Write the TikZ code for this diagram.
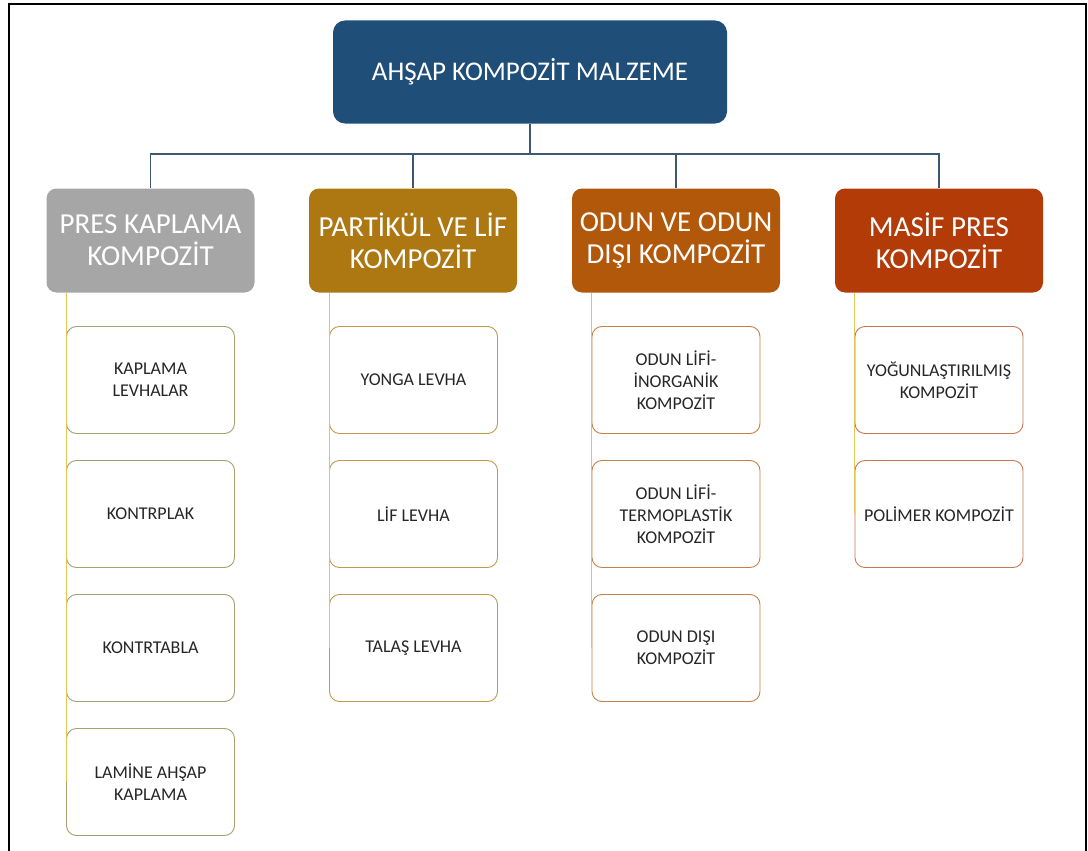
\documentclass[tikz,border=0pt]{standalone}
\usepackage{fontspec}
\setmainfont{Carlito}
\usepackage{tikz}
\usetikzlibrary{calc}
\usetikzlibrary{positioning}
\definecolor{topblue}{HTML}{1F4E79}
\definecolor{busline}{HTML}{3E5870}
\definecolor{leadline}{HTML}{E6C454}
\definecolor{grayC}{HTML}{A6A6A6}
\definecolor{goldC}{HTML}{AD7712}
\definecolor{ochreC}{HTML}{B2580B}
\definecolor{rustC}{HTML}{B23B08}

\begin{document}
\begin{tikzpicture}[x=1pt, y=-1pt,
  topbox/.style={draw=none, fill=topblue, rounded corners=12pt, minimum width=394pt, minimum height=103pt, text=white, font=\fontsize{27}{31}\selectfont},
  headbox/.style={draw=none, rounded corners=10pt, minimum width=208pt, minimum height=104pt, text=white, align=center, font=\fontsize{29}{32}\selectfont},
  leafbox/.style={draw=#1, fill=white, line width=0.9pt, rounded corners=10pt, minimum width=168pt, minimum height=107pt, text=black!85, align=center, font=\fontsize{18}{22}\selectfont},
  conn/.style={draw=busline, line width=1.6pt},
  lead/.style={draw=leadline, line width=1pt}]
\useasboundingbox (0,0) rectangle (1088,851);
\draw[black, line width=1.8pt] (9,851) -- (9,4) -- (1086,4) -- (1086,851);
\node[topbox] (R0) at (530,72) {AHŞAP KOMPOZİT MALZEME};
\node[headbox, fill=grayC] (C1) at (150.5,240.5) {PRES KAPLAMA\\KOMPOZİT};
\node[headbox, fill=goldC] (C2) at (413,240.5) {PARTİKÜL VE LİF\\KOMPOZİT};
\node[headbox, fill=ochreC] (C3) at (676,240.5) {ODUN VE ODUN\\DIŞI KOMPOZİT};
\node[headbox, fill=rustC] (C4) at (939,240.5) {MASİF PRES\\KOMPOZİT};
\coordinate (bus) at (530,154);
\draw[conn] (R0.south) -- (bus);
\draw[conn] (bus) -| (C1.north);
\draw[conn] (bus) -| (C2.north);
\draw[conn] (bus) -| (C3.north);
\draw[conn] (bus) -| (C4.north);
% first column
\node[leafbox=black!30!yellow!45!gray] (C1N1) at (150.5,380) {KAPLAMA\\LEVHALAR};
\node[leafbox=black!30!yellow!45!gray] (C1N2) at (150.5,514) {KONTRPLAK};
\node[leafbox=black!30!yellow!45!gray] (C1N3) at (150.5,648) {KONTRTABLA};
\node[leafbox=black!30!yellow!45!gray] (C1N4) at (150.5,782) {LAMİNE AHŞAP\\KAPLAMA};
% second column
\node[leafbox=goldC!75] (C2N1) at (413.5,380) {YONGA LEVHA};
\node[leafbox=goldC!75] (C2N2) at (413.5,514) {LİF LEVHA};
\node[leafbox=goldC!75] (C2N3) at (413.5,648) {TALAŞ LEVHA};
% third column
\node[leafbox=ochreC!75] (C3N1) at (676,380) {ODUN LİFİ-\\İNORGANİK\\KOMPOZİT};
\node[leafbox=ochreC!75] (C3N2) at (676,514) {ODUN LİFİ-\\TERMOPLASTİK\\KOMPOZİT};
\node[leafbox=ochreC!75] (C3N3) at (676,648) {ODUN DIŞI\\KOMPOZİT};
% fourth column
\node[leafbox=rustC!70] (C4N1) at (939,380) {YOĞUNLAŞTIRILMIŞ\\KOMPOZİT};
\node[leafbox=rustC!70] (C4N2) at (939,514) {POLİMER KOMPOZİT};
% yellow leads
\draw[lead] (C1N1.west |- C1.south) -- (C1N4.west);
\draw[lead] (C2N1.west |- C2.south) -- (C2N3.west);
\draw[lead] (C3N1.west |- C3.south) -- (C3N3.west);
\draw[lead] (C4N1.west |- C4.south) -- (C4N2.west);
\end{tikzpicture}
\end{document}
